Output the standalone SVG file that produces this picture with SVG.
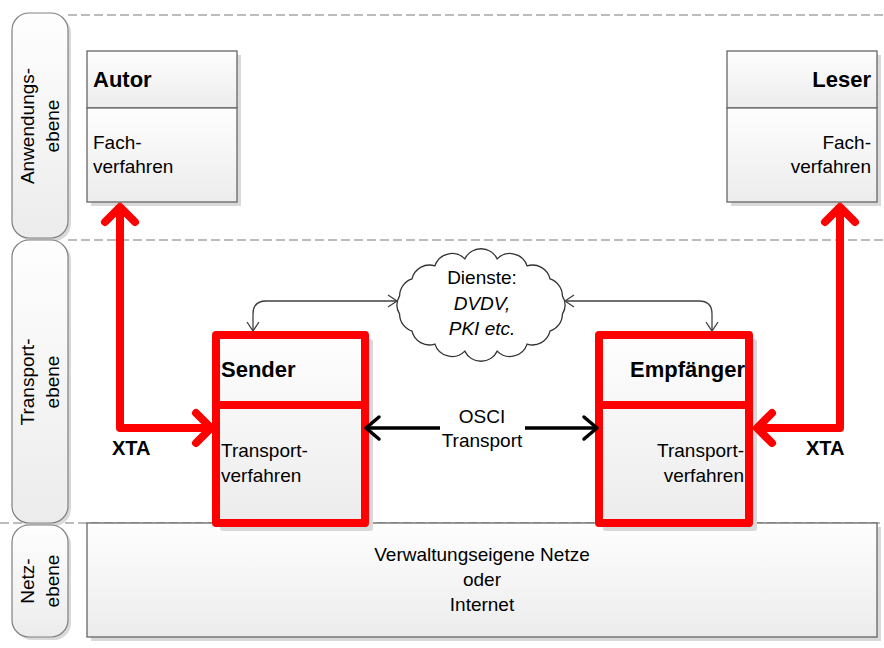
<svg xmlns="http://www.w3.org/2000/svg" width="884" height="648" viewBox="0 0 884 648">
<defs>
  <linearGradient id="gBox" x1="0" y1="0" x2="0" y2="1">
    <stop offset="0" stop-color="#fefefe"/>
    <stop offset="1" stop-color="#ececec"/>
  </linearGradient>
  <marker id="mThin" viewBox="-11 -7 13 14" refX="0" refY="0" markerWidth="13" markerHeight="14" markerUnits="userSpaceOnUse" orient="auto-start-reverse">
    <path d="M-9,-6 L0,0 L-9,6" fill="none" stroke="#404040" stroke-width="1.3"/>
  </marker>
  <marker id="mBlack" viewBox="-17 -15 21 30" refX="0" refY="0" markerWidth="21" markerHeight="30" markerUnits="userSpaceOnUse" orient="auto">
    <path d="M-13,-11 L0,0 L-13,11" fill="none" stroke="#000" stroke-width="3.5" stroke-linecap="round" stroke-linejoin="round"/>
  </marker>
  <marker id="mRed" viewBox="-22 -22 28 44" refX="0" refY="0" markerWidth="28" markerHeight="44" markerUnits="userSpaceOnUse" orient="auto-start-reverse">
    <path d="M-15,-15 L0,0 L-15,15" fill="none" stroke="#ff0000" stroke-width="8" stroke-linecap="round" stroke-linejoin="round"/>
  </marker>
  <style>
    .dash { stroke:#a6a6a6; stroke-width:1.3; stroke-dasharray:9 4; fill:none; }
    .lane { fill:url(#gBox); stroke:#808080; stroke-width:1.2; }
    .shadow { fill:#d9d9d9; }
    .box { fill:url(#gBox); stroke:#666; stroke-width:1.3; }
    .rbox { fill:url(#gBox); stroke:#ff0000; stroke-width:8; stroke-linejoin:round; }
    .rdiv { stroke:#ff0000; stroke-width:8; }
    .div { stroke:#666; stroke-width:1.3; }
    text { font-family:"Liberation Sans", Arial, sans-serif; fill:#000; }
    .t { font-size:19px; }
    .title { font-size:22px; font-weight:bold; }
    .xta { font-size:20px; font-weight:bold; }
    .it { font-style:italic; }
    .thin { fill:none; stroke:#404040; stroke-width:1.3; marker-start:url(#mThin); marker-end:url(#mThin); }
    .blk { fill:none; stroke:#000; stroke-width:3.5; marker-end:url(#mBlack); }
    .red { fill:none; stroke:#ff0000; stroke-width:8; stroke-linejoin:round; marker-start:url(#mRed); marker-end:url(#mRed); }
  </style>
</defs>

<rect width="884" height="648" fill="#ffffff"/>

<g id="separators">
  <line class="dash" x1="68" y1="15" x2="884" y2="15"/>
  <line class="dash" x1="68" y1="240" x2="884" y2="240"/>
  <line class="dash" x1="0" y1="523" x2="884" y2="523"/>
</g>

<g id="lane-anwendungsebene">
  <rect class="shadow" x="15" y="16" width="56" height="225" rx="17"/>
  <rect class="lane" x="12" y="13" width="56" height="225" rx="17"/>
  <text class="t" transform="translate(40,126) rotate(-90)" text-anchor="middle"><tspan x="0" y="-6">Anwendungs-</tspan><tspan x="0" y="19">ebene</tspan></text>
</g>
<g id="lane-transportebene">
  <rect class="shadow" x="15" y="243" width="56" height="283" rx="17"/>
  <rect class="lane" x="12" y="240" width="56" height="283" rx="17"/>
  <text class="t" transform="translate(40,382) rotate(-90)" text-anchor="middle"><tspan x="0" y="-6">Transport-</tspan><tspan x="0" y="19">ebene</tspan></text>
</g>
<g id="lane-netzebene">
  <rect class="shadow" x="15" y="528" width="56" height="112" rx="17"/>
  <rect class="lane" x="12" y="525" width="56" height="112" rx="17"/>
  <text class="t" transform="translate(40,581) rotate(-90)" text-anchor="middle"><tspan x="0" y="-6">Netz-</tspan><tspan x="0" y="19">ebene</tspan></text>
</g>

<g id="autor">
  <rect class="shadow" x="91" y="55" width="150" height="151"/>
  <rect class="box" x="87" y="51" width="150" height="57"/>
  <rect class="box" x="87" y="108" width="150" height="94"/>
  <text class="title" x="93" y="87">Autor</text>
  <text class="t" x="93" y="149">Fach-</text>
  <text class="t" x="93" y="173">verfahren</text>
</g>

<g id="leser">
  <rect class="shadow" x="731" y="55" width="150" height="151"/>
  <rect class="box" x="727" y="51" width="150" height="57"/>
  <rect class="box" x="727" y="108" width="150" height="94"/>
  <text class="title" x="871" y="87" text-anchor="end">Leser</text>
  <text class="t" x="871" y="149" text-anchor="end">Fach-</text>
  <text class="t" x="871" y="173" text-anchor="end">verfahren</text>
</g>

<g id="netz">
  <rect class="shadow" x="91" y="527" width="790" height="114"/>
  <rect class="box" x="87" y="523" width="790" height="114"/>
  <text class="t" x="482" y="561" text-anchor="middle">Verwaltungseigene Netze</text>
  <text class="t" x="482" y="586" text-anchor="middle">oder</text>
  <text class="t" x="482" y="611" text-anchor="middle">Internet</text>
</g>

<g id="sender">
  <rect class="shadow" x="220" y="339" width="153" height="192" rx="3"/>
  <rect class="rbox" x="216" y="335" width="149" height="188"/>
  <line class="rdiv" x1="216" y1="405" x2="365" y2="405"/>
  <text class="title" x="221" y="377">Sender</text>
  <text class="t" x="221" y="457">Transport-</text>
  <text class="t" x="221" y="482">verfahren</text>
</g>

<g id="empfaenger">
  <rect class="shadow" x="603" y="339" width="154" height="192" rx="3"/>
  <rect class="rbox" x="599" y="335" width="150" height="188"/>
  <line class="rdiv" x1="599" y1="405" x2="749" y2="405"/>
  <text class="title" x="745" y="377" text-anchor="end">Empfänger</text>
  <text class="t" x="744" y="457" text-anchor="end">Transport-</text>
  <text class="t" x="744" y="482" text-anchor="end">verfahren</text>
</g>

<g id="dienste">
  <path d="M562.4,295.8 A18,18 0 0 1 562.4,314.2 A18,18 0 0 1 550,331.1 A18,18 0 0 1 527.1,344.1 A18,18 0 0 1 497.2,351.1 A18,18 0 0 1 464.8,351.1 A18,18 0 0 1 434.9,344.1 A18,18 0 0 1 412,331.1 A18,18 0 0 1 399.6,314.2 A18,18 0 0 1 399.6,295.8 A18,18 0 0 1 412,278.9 A18,18 0 0 1 434.9,265.9 A18,18 0 0 1 464.8,258.9 A18,18 0 0 1 497.2,258.9 A18,18 0 0 1 527.1,265.9 A18,18 0 0 1 550,278.9 A18,18 0 0 1 562.4,295.8 Z" fill="#ffffff" stroke="#333" stroke-width="1.3"/>
  <text class="t" x="482" y="284" text-anchor="middle">Dienste:</text>
  <text class="t it" x="482" y="310" text-anchor="middle">DVDV,</text>
  <text class="t it" x="482" y="335" text-anchor="middle">PKI etc.</text>
</g>

<g id="connectors">
  <path class="thin" d="M397,301 H266 Q253,301 253,314 V331"/>
  <path class="thin" d="M565,301 H699 Q712,301 712,314 V331"/>
  <path class="blk" d="M440,428 H366"/>
  <path class="blk" d="M525,428 H597"/>
  <text class="t" x="482" y="423" text-anchor="middle">OSCI</text>
  <text class="t" x="482" y="447" text-anchor="middle">Transport</text>
  <path class="red" d="M120,207 V428 H211"/>
  <path class="red" d="M840,207 V428 H757"/>
  <text class="xta" x="112" y="455">XTA</text>
  <text class="xta" x="806" y="455">XTA</text>
</g>
</svg>
